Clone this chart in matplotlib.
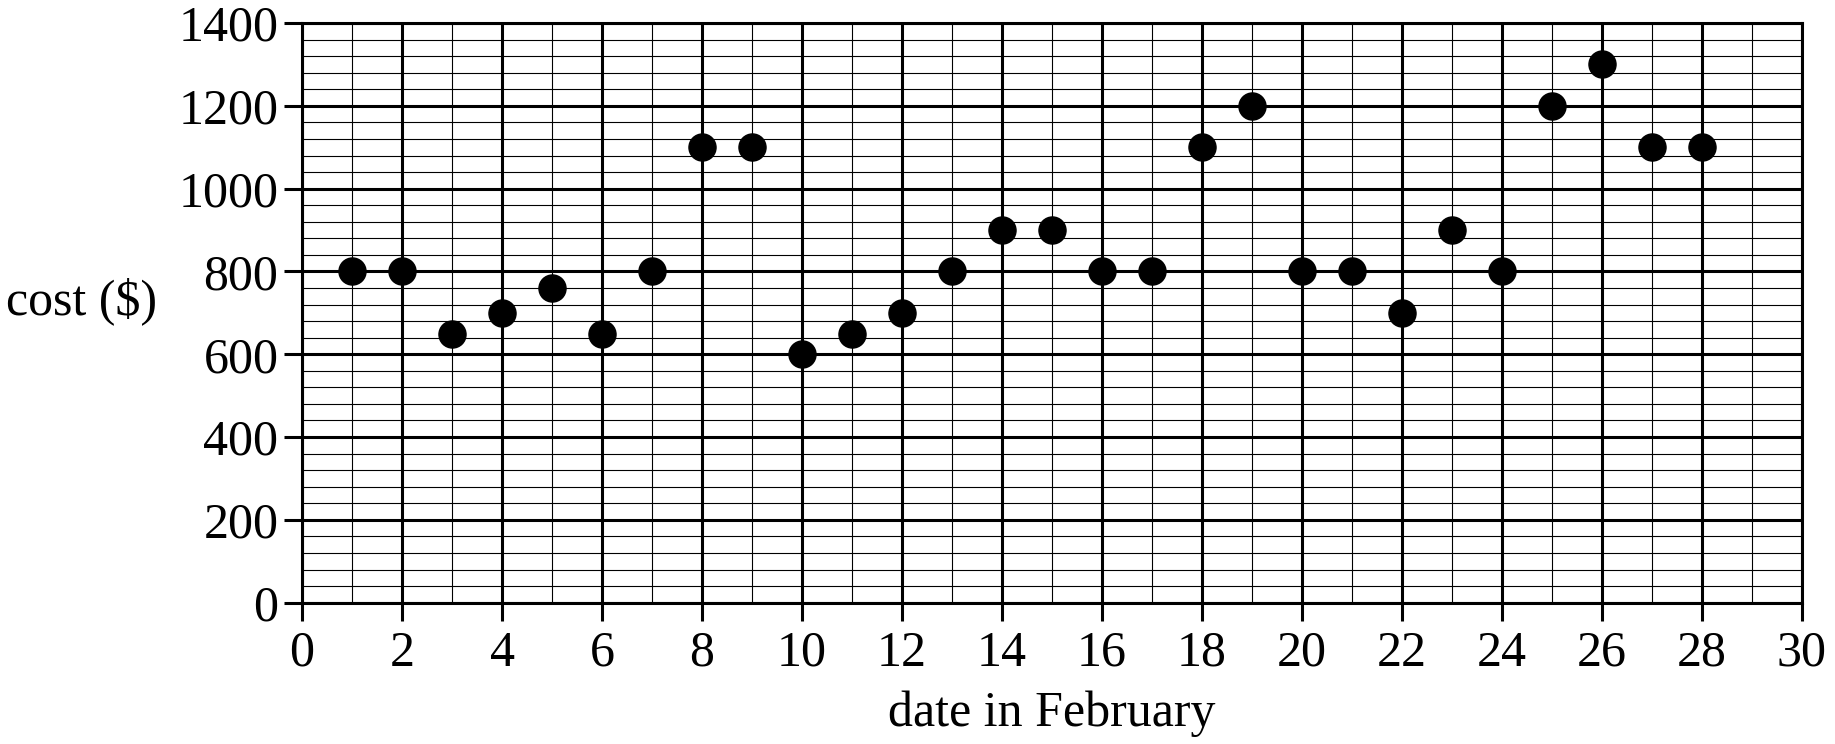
import matplotlib
matplotlib.use("Agg")
import matplotlib.pyplot as plt
from matplotlib.ticker import MultipleLocator

dates = [1, 2, 3, 4, 5, 6, 7, 8, 9, 10, 11, 12, 13, 14, 15, 16, 17, 18, 19, 20,
         21, 22, 23, 24, 25, 26, 27, 28]
costs = [800, 800, 650, 700, 760, 650, 800, 1100, 1100, 600, 650, 700, 800, 900,
         900, 800, 800, 1100, 1200, 800, 800, 700, 900, 800, 1200, 1300, 1100, 1100]

plt.rcParams['font.family'] = ['Liberation Serif', 'DejaVu Serif']

fig = plt.figure(figsize=(18.35, 7.44), dpi=100)
ax = fig.add_axes([0.1646, 0.190, 0.982 - 0.1646, 0.969 - 0.190])

ax.set_xlim(0, 30)
ax.set_ylim(0, 1400)
ax.xaxis.set_major_locator(MultipleLocator(2))
ax.xaxis.set_minor_locator(MultipleLocator(1))
ax.yaxis.set_major_locator(MultipleLocator(200))
ax.yaxis.set_minor_locator(MultipleLocator(40))

ax.grid(which='major', color='black', linewidth=2.2)
ax.grid(which='minor', color='black', linewidth=0.8)
ax.set_axisbelow(True)

for s in ax.spines.values():
    s.set_linewidth(2.2)
    s.set_color('black')

ax.tick_params(which='major', length=13, width=2.2, labelsize=36, direction='out')
ax.tick_params(axis='x', which='major', pad=7)
ax.tick_params(axis='y', which='major', pad=4)
ax.tick_params(which='minor', length=0)

ax.scatter(dates, costs, s=380, color='black', zorder=3, clip_on=False)

fig.text(0.003, 0.595, 'cost ($)', fontsize=36, ha='left', va='center')
ax.set_xlabel('date in February', fontsize=36, labelpad=10)

fig.savefig('out.png', dpi=100)
